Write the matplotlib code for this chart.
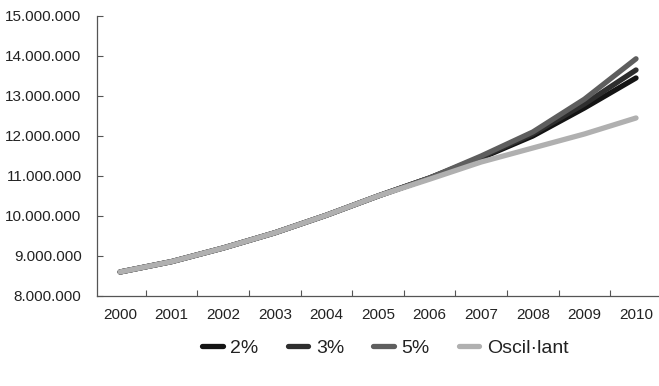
import matplotlib
matplotlib.use("Agg")
import matplotlib.pyplot as plt
import numpy as np
from matplotlib.ticker import FuncFormatter

plt.rcParams['font.family'] = ['Liberation Sans', 'DejaVu Sans']

years = ["2000", "2001", "2002", "2003", "2004", "2005", "2006", "2007", "2008", "2009", "2010"]
s2 = [8.60, 8.86, 9.20, 9.58, 10.02, 10.50, 10.95, 11.45, 12.00, 12.70, 13.45]
s3 = [8.60, 8.86, 9.20, 9.58, 10.02, 10.50, 10.95, 11.47, 12.05, 12.80, 13.65]
s5 = [8.60, 8.86, 9.20, 9.58, 10.02, 10.50, 10.95, 11.50, 12.10, 12.92, 13.93]
osc = [8.60, 8.86, 9.20, 9.58, 10.02, 10.50, 10.92, 11.35, 11.70, 12.05, 12.45]
labels = ["2%", "3%", "5%", "Oscil·lant"]
colors = ["#141414", "#2e2e2e", "#5e5e5e", "#b0b0b0"]

fig = plt.figure(figsize=(6.59, 3.86), dpi=100)
ax = fig.add_axes([0.147, 0.2332, 0.851, 0.7254])

x = np.arange(len(years))
series = [s2, s3, s5, osc]
order = [3, 0, 1, 2]
for i in order:
    ax.plot(x, np.array(series[i]) * 1e6, color=colors[i], lw=3.8,
            solid_capstyle='round', solid_joinstyle='round', label=labels[i], zorder=3 + i)

ax.set_xlim(-0.45, 10.42)
ax.set_ylim(8e6, 15e6)
ax.set_yticks(np.arange(8e6, 15.01e6, 1e6))
ax.yaxis.set_major_formatter(FuncFormatter(lambda v, p: f"{int(round(v)):,}".replace(",", ".")))
ax.set_xticks(x)
ax.set_xticklabels(years)
ax.set_xticks(np.arange(0.5, 10, 1), minor=True)

for s in ['top', 'right']:
    ax.spines[s].set_visible(False)
for s in ['left', 'bottom']:
    ax.spines[s].set_color('#555555')
    ax.spines[s].set_linewidth(0.9)

ax.tick_params(axis='y', direction='in', length=4, width=0.8, color='#555555',
               labelsize=11, labelcolor='#222222', pad=11)
ax.tick_params(axis='x', which='major', length=0, labelsize=11, labelcolor='#222222', pad=9)
ax.tick_params(axis='x', which='minor', direction='in', length=4, width=0.8, color='#555555')

handles, labs = ax.get_legend_handles_labels()
hmap = dict(zip(labs, handles))
leg = fig.legend([hmap[l] for l in labels], labels, loc='center', bbox_to_anchor=(0.585, 0.098),
                 ncol=4, frameon=False, fontsize=14, handlelength=1.05, handletextpad=0.4,
                 columnspacing=1.5)
for t in leg.get_texts():
    t.set_color('#222222')

fig.savefig("out.png", dpi=100)
